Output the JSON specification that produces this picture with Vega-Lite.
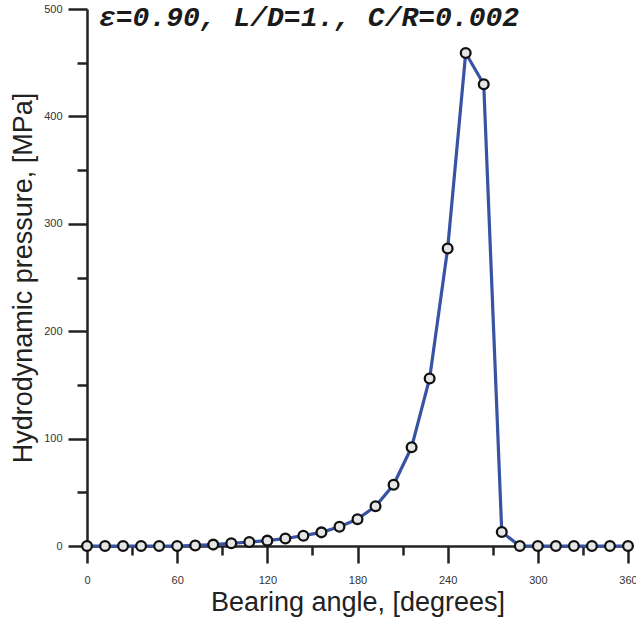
{
  "$schema": "https://vega.github.io/schema/vega-lite/v6.json",
  "width": 541,
  "height": 537,
  "autosize": "none",
  "padding": {"left": 87, "top": 9, "right": 8, "bottom": 77},
  "background": "white",
  "config": {"view": {"stroke": null}},
  "title": {
    "text": "ε=0.90,  L/D=1.,  C/R=0.002",
    "anchor": "start",
    "frame": "group",
    "orient": "top",
    "baseline": "top",
    "offset": 0,
    "dx": 12,
    "dy": 29,
    "font": "Liberation Mono",
    "fontSize": 28,
    "fontStyle": "italic",
    "fontWeight": "bold",
    "color": "#1a1a1a"
  },
  "data": {
    "values": [
      {"angle": 0, "p": 0}, {"angle": 12, "p": 0}, {"angle": 24, "p": 0}, {"angle": 36, "p": 0},
      {"angle": 48, "p": 0}, {"angle": 60, "p": 0}, {"angle": 72, "p": 0.5}, {"angle": 84, "p": 1.3},
      {"angle": 96, "p": 2.5}, {"angle": 108, "p": 3.7}, {"angle": 120, "p": 5}, {"angle": 132, "p": 7},
      {"angle": 144, "p": 9.6}, {"angle": 156, "p": 12.7}, {"angle": 168, "p": 18}, {"angle": 180, "p": 25},
      {"angle": 192, "p": 37}, {"angle": 204, "p": 57}, {"angle": 216, "p": 92}, {"angle": 228, "p": 156},
      {"angle": 240, "p": 277}, {"angle": 252, "p": 459}, {"angle": 264, "p": 430}, {"angle": 276, "p": 13},
      {"angle": 288, "p": 0}, {"angle": 300, "p": 0}, {"angle": 312, "p": 0}, {"angle": 324, "p": 0},
      {"angle": 336, "p": 0}, {"angle": 348, "p": 0}, {"angle": 360, "p": 0}
    ]
  },
  "encoding": {
    "x": {
      "field": "angle",
      "type": "quantitative",
      "scale": {"domain": [0, 360], "nice": false},
      "axis": {
        "title": "Bearing angle, [degrees]",
        "titleFont": "Liberation Sans",
        "titleFontSize": 27,
        "titleFontWeight": "normal",
        "titleColor": "#222",
        "titlePadding": 4,
        "values": [0, 30, 60, 90, 120, 150, 180, 210, 240, 270, 300, 330, 360],
        "labelExpr": "datum.value % 60 === 0 ? datum.label : ''",
        "labelFont": "Liberation Sans",
        "labelFontSize": 11,
        "labelColor": "#333",
        "labelPadding": 11,
        "labelFlush": false,
        "labelOverlap": false,
        "grid": false,
        "domainColor": "#222",
        "domainWidth": 2.5,
        "tickColor": "#222",
        "tickWidth": 2.5,
        "tickSize": {"condition": {"test": "datum.value % 60 !== 0", "value": 9}, "value": 17}
      }
    },
    "y": {
      "field": "p",
      "type": "quantitative",
      "scale": {"domain": [0, 500], "nice": false},
      "axis": {
        "title": "Hydrodynamic pressure, [MPa]",
        "titleFont": "Liberation Sans",
        "titleFontSize": 27,
        "titleFontWeight": "normal",
        "titleColor": "#222",
        "titlePadding": 6,
        "values": [0, 50, 100, 150, 200, 250, 300, 350, 400, 450, 500],
        "labelExpr": "datum.value % 100 === 0 ? datum.label : ''",
        "labelFont": "Liberation Sans",
        "labelFontSize": 11,
        "labelColor": "#333",
        "labelPadding": 6,
        "labelFlush": false,
        "labelOverlap": false,
        "grid": false,
        "domainColor": "#222",
        "domainWidth": 2.5,
        "tickColor": "#222",
        "tickWidth": 2.5,
        "tickSize": {"condition": {"test": "datum.value % 100 !== 0", "value": 10}, "value": 19}
      }
    }
  },
  "layer": [
    {"mark": {"type": "line", "color": "#3953a4", "strokeWidth": 3.2, "clip": false}},
    {"mark": {"type": "point", "shape": "circle", "filled": false, "fill": "#e6e6e6", "fillOpacity": 1, "stroke": "#111", "strokeWidth": 2.3, "size": 95, "opacity": 1, "clip": false}}
  ]
}
